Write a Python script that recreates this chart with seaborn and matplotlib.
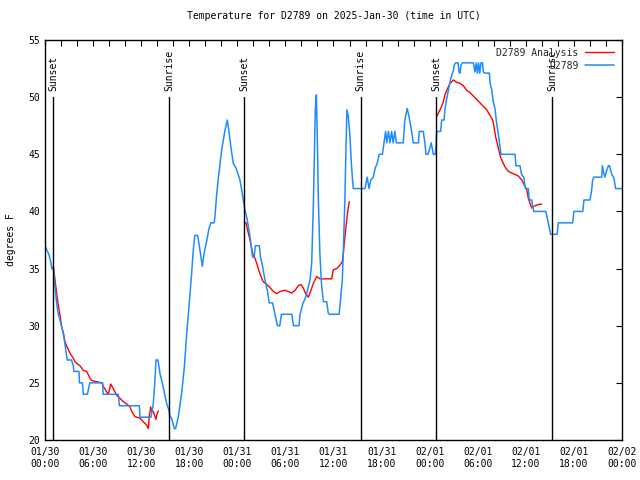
import numpy as np
import pandas as pd
import matplotlib
matplotlib.use("Agg")
import matplotlib.pyplot as plt
import matplotlib.dates as mdates
from matplotlib.lines import Line2D
import seaborn as sns

# ---------------- data ----------------
base_time = "2025-01-30 00:00"

# observed station temperature (hours after base_time, degrees F)
obs_hours = [0.0, 0.5, 0.75, 0.85, 1.04, 1.25, 1.45, 1.66, 1.87, 2.08, 2.29, 2.5, 2.7, 2.78,
             3.3, 3.54, 3.6, 4.24, 4.3, 4.66, 4.78, 5.28, 5.6, 7.2, 7.25, 9.15, 9.28, 11.77,
             11.85, 13.23, 13.5, 13.7, 13.85, 14.1, 14.35, 14.64, 14.9, 15.18, 15.47, 15.6,
             15.8, 16.14, 16.3, 16.64, 17.05, 17.39, 17.68, 17.97, 18.3, 18.5, 18.7, 19.05,
             19.34, 19.63, 19.84, 20.2, 20.46, 20.7, 21.1, 21.2, 21.4, 21.6, 21.84, 22.05,
             22.25, 22.46, 22.75, 22.87, 23.08, 23.3, 23.5, 23.83, 24.12, 24.33, 24.54, 24.74,
             24.95, 25.17, 25.37, 25.58, 25.8, 25.9, 26.1, 26.24, 26.74, 26.9, 27.15, 27.45,
             27.74, 27.98, 28.4, 28.7, 29.0, 29.3, 29.5, 30.8, 31.0, 31.7, 31.8, 32.2, 32.4,
             32.65, 33.07, 33.28, 33.48, 33.6, 33.73, 33.86, 33.98, 34.1, 34.3, 34.5, 34.73,
             35.15, 35.35, 35.5, 36.7, 36.8, 37.1, 37.22, 37.43, 37.56, 37.68, 37.85, 38.06,
             38.2, 38.35, 38.47, 39.93, 40.2, 40.43, 40.65, 40.97, 41.2, 41.45, 41.7, 42.1,
             42.3, 42.5, 42.65, 42.85, 43.05, 43.25, 43.45, 43.65, 43.85, 44.7, 44.9, 45.2,
             45.45, 45.75, 45.96, 46.6, 46.7, 47.2, 47.4, 47.54, 47.8, 48.0, 48.2, 48.45,
             48.7, 48.8, 48.87, 49.37, 49.5, 49.8, 49.9, 50.1, 50.3, 50.5, 50.7, 50.95, 51.07,
             51.24, 51.55, 51.66, 51.8, 51.9, 52.1, 53.45, 53.65, 53.8, 53.95, 54.1, 54.25,
             54.4, 54.6, 54.7, 54.9, 55.45, 55.55, 55.75, 55.94, 56.15, 56.36, 56.56, 56.7,
             56.9, 58.65, 58.77, 59.27, 59.48, 59.75, 59.94, 60.3, 60.43, 60.74, 60.85, 61.0,
             62.5, 62.65, 62.93, 63.1, 63.9, 64.05, 65.85, 66.0, 67.1, 67.26, 68.0, 68.2,
             68.33, 68.5, 69.47, 69.55, 69.7, 69.87, 70.05, 70.3, 70.45, 70.7, 71.0, 71.2, 72.0]
obs_temps = [37.0, 36.2, 35.5, 35.0, 35.0, 33.4, 32.0, 31.0, 30.5, 29.9, 29.3, 28.3, 27.4, 27.0,
             27.0, 26.5, 26.0, 26.0, 25.0, 25.0, 24.0, 24.0, 25.0, 25.0, 24.0, 24.0, 23.0, 23.0,
             22.0, 22.0, 23.07, 25.0, 27.0, 27.0, 25.8, 25.0, 24.1, 23.2, 22.6, 22.05,
             21.9, 21.0, 21.0, 22.05, 24.1, 26.4, 29.3, 31.7, 34.6, 36.6, 37.9, 37.9,
             36.6, 35.2, 36.3, 37.5, 38.5, 39.0, 39.0, 39.5, 41.3, 42.75, 44.2, 45.4,
             46.25, 47.1, 48.0, 47.4, 46.25, 45.1, 44.2, 43.8, 43.2, 42.75, 41.9, 41.0,
             40.1, 39.5, 38.7, 37.8, 36.6, 36.0, 36.0, 37.0, 37.0, 36.0, 35.2, 34.0,
             33.1, 32.0, 32.0, 31.0, 30.0, 30.0, 31.0, 31.0, 30.0, 30.0, 30.9, 32.0, 32.25,
             32.8, 34.0, 35.5, 40.4, 44.5, 48.9, 50.2, 46.5, 41.3, 36.3, 33.7, 32.1,
             32.1, 31.1, 31.0, 31.0, 31.7, 34.0, 36.3, 41.3, 45.7, 48.9, 48.3, 46.5,
             44.5, 43.0, 42.0, 42.0, 43.0, 42.0, 42.75, 43.0, 43.8, 44.2, 45.0, 45.0,
             46.0, 47.0, 46.0, 47.0, 46.0, 47.0, 46.0, 47.0, 46.0, 46.0, 48.0, 49.0,
             48.2, 47.0, 46.0, 46.0, 47.0, 47.0, 46.0, 45.0, 45.0, 45.5, 46.0, 45.0,
             45.0, 45.7, 47.0, 47.0, 48.0, 48.0, 48.9, 49.75, 50.5, 51.2, 51.8, 52.3, 52.8,
             53.0, 53.0, 52.2, 52.1, 52.8, 53.0, 53.0, 52.2, 53.0, 52.1, 53.0, 52.1,
             53.0, 53.0, 52.2, 52.1, 52.1, 51.2, 50.6, 49.6, 49.0, 47.7, 46.8, 46.1,
             45.0, 45.0, 44.0, 44.0, 43.2, 43.0, 42.0, 42.0, 41.0, 41.0, 40.4, 40.0,
             40.0, 39.5, 38.6, 38.0, 38.0, 39.0, 39.0, 40.0, 40.0, 41.0, 41.0, 41.8,
             42.7, 43.0, 43.0, 44.0, 43.4, 43.0, 43.5, 44.0, 44.0, 43.3, 42.9, 42.0, 42.0]

# analysis temperature, three separate night-time segments
ana1_hours = [1.04, 1.25, 1.46, 1.66, 1.87, 2.08, 2.28, 2.5, 2.71, 2.91, 3.12, 3.53, 3.74, 3.96,
              4.37, 4.78, 5.2, 5.62, 5.83, 6.45, 7.08, 7.27, 7.7, 7.9, 8.2, 8.52, 8.95, 9.36,
              9.77, 10.2, 10.6, 10.82, 11.23, 11.85, 12.27, 12.69, 12.89, 13.01, 13.19, 13.31,
              13.51, 13.73, 13.85, 13.94, 14.14]
ana1_temps = [35.2, 34.0, 32.8, 31.8, 30.9, 29.9, 29.4, 28.6, 28.2, 27.9, 27.6, 27.15, 26.85, 26.7,
              26.5, 26.1, 26.0, 25.4, 25.2, 25.1, 25.0, 24.7, 24.2, 24.0, 24.9, 24.5, 23.9, 23.65,
              23.35, 23.15, 22.9, 22.5, 22.05, 21.9, 21.6, 21.3, 21.0, 22.05, 22.9, 22.5,
              22.5, 22.05, 21.8, 22.2, 22.55]
ana2_hours = [24.87, 25.08, 25.37, 25.58, 25.92, 26.2, 26.42, 26.74, 27.04, 27.24, 27.66, 27.99,
              28.49, 28.91, 29.32, 29.95, 30.36, 30.78, 31.2, 31.61, 31.94, 32.23, 32.53, 32.86,
              33.19, 33.48, 33.9, 34.31, 34.94, 35.77, 35.97, 36.4, 36.81, 37.1, 37.22, 37.43,
              37.65, 37.85, 37.97]
ana2_temps = [39.05, 39.0, 38.1, 37.5, 36.3, 35.9, 35.45, 34.7, 34.15, 33.85, 33.6, 33.4,
              33.0, 32.8, 33.0, 33.1, 33.0, 32.85, 33.1, 33.5, 33.6, 33.3, 32.8, 32.5,
              33.1, 33.7, 34.3, 34.1, 34.1, 34.1, 34.9, 35.0, 35.3, 35.6, 36.3, 37.8,
              39.25, 40.4, 40.85]
ana3_hours = [48.88, 49.08, 49.29, 49.5, 49.7, 49.91, 50.13, 50.33, 50.54, 50.75, 50.95, 51.37,
              51.79, 52.2, 52.62, 53.03, 53.44, 53.87, 54.28, 54.69, 55.11, 55.53, 55.86, 56.03,
              56.24, 56.49, 56.78, 56.99, 57.4, 57.81, 58.44, 59.06, 59.48, 59.9, 60.11, 60.31,
              60.52, 60.73, 60.86, 61.14, 61.56, 61.98]
ana3_temps = [48.3, 48.6, 48.9, 49.2, 49.6, 50.2, 50.6, 50.9, 51.2, 51.35, 51.5, 51.3,
              51.2, 51.0, 50.6, 50.4, 50.1, 49.8, 49.5, 49.2, 48.9, 48.4, 48.0, 47.4,
              46.5, 45.8, 44.9, 44.5, 43.9, 43.5, 43.3, 43.1, 42.75, 42.2, 41.9, 41.15,
              40.7, 40.3, 40.4, 40.5, 40.6, 40.65]

# sun events (hours after base_time)
sun_labels = ["Sunset", "Sunrise", "Sunset", "Sunrise", "Sunset", "Sunrise"]
sun_hours = [1.0, 15.47, 24.87, 39.39, 48.83, 63.3]

title = "Temperature for D2789 on 2025-Jan-30 (time in UTC)"
ylabel = "degrees F"
ana_name = "D2789 Analysis"
obs_name = "D2789"

# ---------------- build frames ----------------
t0 = pd.Timestamp(base_time)
def to_time(h):
    return t0 + pd.to_timedelta(np.asarray(h, dtype=float), unit="h")

obs_df = pd.DataFrame({"time": to_time(obs_hours), "temp": obs_temps})
ana_df = pd.concat([
    pd.DataFrame({"time": to_time(h), "temp": t, "seg": i})
    for i, (h, t) in enumerate([(ana1_hours, ana1_temps),
                                (ana2_hours, ana2_temps),
                                (ana3_hours, ana3_temps)])
], ignore_index=True)

red = "#ff0000"
blue = "#1e8cff"

# ---------------- plot ----------------
sns.set_theme(style="white")
mono = ["DejaVu Sans Mono"]
plt.rcParams["font.family"] = mono
plt.rcParams["font.size"] = 7

fig = plt.figure(figsize=(6.4, 4.8), dpi=100)
ax = fig.add_axes([45 / 640, 40 / 480, 577 / 640, 400 / 480])

sns.lineplot(data=ana_df, x="time", y="temp", units="seg", estimator=None,
             color=red, linewidth=1.0, ax=ax, legend=False)
sns.lineplot(data=obs_df, x="time", y="temp", color=blue,
             linewidth=1.1, ax=ax, legend=False)

for name, h in zip(sun_labels, sun_hours):
    tt = to_time([h])[0]
    ax.plot([tt, tt], [20, 50], color="black", linewidth=1.0)
    ax.text(tt, 50.5, name, rotation=90, ha="center", va="bottom",
            fontsize=7, family=mono, color="black")

ax.set_xlim(t0, t0 + pd.Timedelta(hours=72))
ax.set_ylim(20, 55)
ax.set_yticks(np.arange(20, 56, 5))
ax.xaxis.set_major_locator(mdates.HourLocator(byhour=[0, 6, 12, 18]))
ax.xaxis.set_minor_locator(mdates.HourLocator(interval=2))
ax.xaxis.set_major_formatter(mdates.DateFormatter("%m/%d\n%H:%M"))

ax.tick_params(axis="both", which="both", direction="in", top=True, right=True,
               length=4, width=0.8, color="black", labelsize=7, labelcolor="black")
ax.tick_params(axis="x", which="major", pad=5)
for s in ax.spines.values():
    s.set_color("black")
    s.set_linewidth(1.0)

ax.set_xlabel("")
ax.set_ylabel(ylabel, fontsize=7, color="black", labelpad=9)
ax.set_title(title, fontsize=7, color="black", pad=15)

handles = [Line2D([], [], color=red, linewidth=1.0),
           Line2D([], [], color=blue, linewidth=1.1)]
leg = ax.legend(handles, [ana_name, obs_name], loc="upper right", frameon=False,
                markerfirst=False, fontsize=7, handlelength=3.0,
                borderaxespad=0.6, labelspacing=0.3, handletextpad=0.7,
                borderpad=0.2)
for t in leg.get_texts():
    t.set_ha("right")

fig.savefig("out.png", dpi=100)
